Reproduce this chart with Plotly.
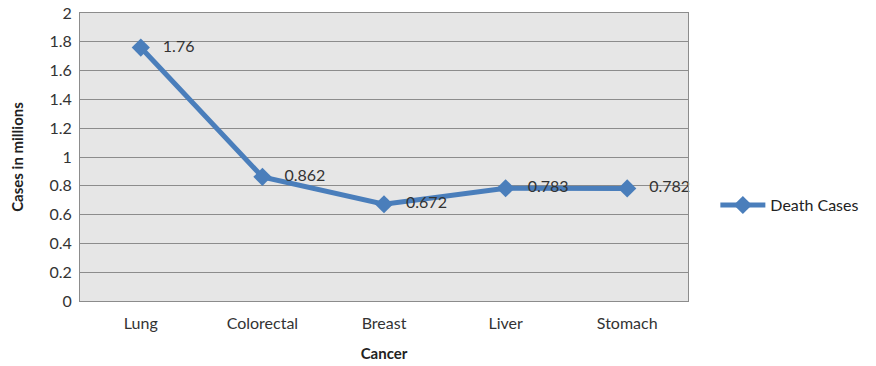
import plotly.graph_objects as go

categories = ["Lung", "Colorectal", "Breast", "Liver", "Stomach"]
death_cases = [1.76, 0.862, 0.672, 0.783, 0.782]
label_texts = ["1.76", "0.862", "0.672", "0.783", "0.782"]
y_ticks = [0, 0.2, 0.4, 0.6, 0.8, 1, 1.2, 1.4, 1.6, 1.8, 2]
y_tick_labels = ["0", "0.2", "0.4", "0.6", "0.8", "1", "1.2", "1.4", "1.6", "1.8", "2"]

FONT = "Lato, 'Open Sans', sans-serif"

fig = go.Figure()
fig.add_trace(go.Scatter(
    x=categories, y=death_cases, mode="lines+markers+text",
    name="Death Cases", cliponaxis=False,
    text=["   " + t for t in label_texts], textposition="middle right",
    textfont=dict(family=FONT, size=16, color="#333333"),
    line=dict(color="#4A7EBB", width=5),
    marker=dict(symbol="diamond", size=14, color="#4A7EBB"),
))

fig.update_layout(
    width=876, height=366,
    margin=dict(l=80, r=186, t=13, b=65),
    paper_bgcolor="white", plot_bgcolor="#E6E6E6",
    font=dict(family=FONT, size=16, color="#333333"),
    showlegend=True,
    legend=dict(x=1.045, y=0.333, xanchor="left", yanchor="middle",
                font=dict(family=FONT, size=16, color="#222222"),
                bgcolor="rgba(0,0,0,0)", itemwidth=45),
    xaxis=dict(
        type="category", range=[-0.5, 4.5], showgrid=False, automargin=False,
        showline=True, linecolor="#8C8C8C", linewidth=1, mirror=True,
        ticks="", ticklabelstandoff=8, tickfont=dict(size=16, color="#333333"),
        title=dict(text="<b>Cancer</b>", font=dict(size=15, color="#222222"), standoff=17),
    ),
    yaxis=dict(
        range=[0, 2], tickvals=y_ticks, ticktext=y_tick_labels, automargin=False,
        showgrid=True, gridcolor="#8C8C8C", gridwidth=1,
        showline=True, linecolor="#8C8C8C", linewidth=1, mirror=True,
        zeroline=False, ticks="", ticklabelstandoff=4, tickfont=dict(size=16, color="#333333"),
        title=dict(text="<b>Cases in millions</b>", font=dict(size=15, color="#222222"), standoff=22),
    ),
)

fig.write_html("out.html")
